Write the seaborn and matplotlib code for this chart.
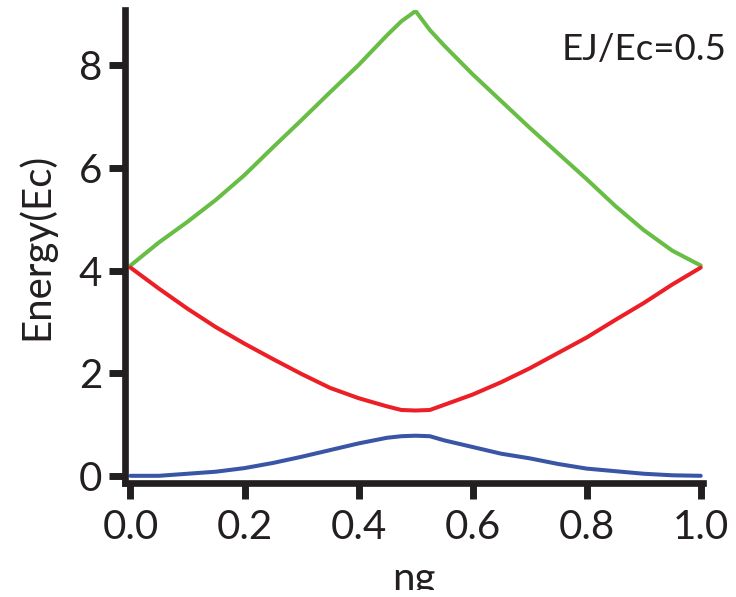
import matplotlib
matplotlib.use("Agg")
import matplotlib.pyplot as plt
import matplotlib.patches as mpatches
import pandas as pd
import seaborn as sns

# Gate charge axis (shared by all three levels)
ng = [0.0, 0.05, 0.10, 0.15, 0.20, 0.25, 0.30, 0.35, 0.40, 0.45, 0.475,
      0.50, 0.525, 0.55, 0.60, 0.65, 0.70, 0.75, 0.80, 0.85, 0.90, 0.95, 1.0]

# Energy levels in units of Ec
level0 = [0.01, 0.01, 0.05, 0.09, 0.16, 0.26, 0.38, 0.51, 0.64, 0.75, 0.78,
          0.79, 0.78, 0.70, 0.57, 0.44, 0.35, 0.24, 0.15, 0.10, 0.05, 0.02, 0.01]
level1 = [4.06, 3.65, 3.26, 2.90, 2.58, 2.28, 1.99, 1.72, 1.52, 1.36, 1.29,
          1.28, 1.29, 1.39, 1.59, 1.83, 2.10, 2.40, 2.70, 3.04, 3.37, 3.73, 4.06]
level2 = [4.10, 4.55, 4.95, 5.38, 5.86, 6.40, 6.93, 7.47, 8.00, 8.58, 8.85,
          9.05, 8.68, 8.38, 7.82, 7.30, 6.78, 6.28, 5.78, 5.26, 4.79, 4.39, 4.10]

level_names = ["E0", "E1", "E2"]
level_colors = ["#3a55a6", "#ec1f26", "#68bd45"]

xticks = [0.0, 0.2, 0.4, 0.6, 0.8, 1.0]
xticklabels = ["0.0", "0.2", "0.4", "0.6", "0.8", "1.0"]
yticks = [0, 2, 4, 6, 8]
yticklabels = ["0", "2", "4", "6", "8"]

ink = "#231f20"

sns.set_style("ticks")
plt.rcParams["font.family"] = ["Lato", "DejaVu Sans"]
plt.rcParams["font.weight"] = "normal"

df = pd.DataFrame({
    "ng": ng * 3,
    "energy": level0 + level1 + level2,
    "level": [level_names[0]] * len(ng) + [level_names[1]] * len(ng) + [level_names[2]] * len(ng),
})

fig = plt.figure(figsize=(7.36, 5.97), dpi=100)
ax = fig.add_axes([125 / 736, 114 / 597, 578 / 736, 473 / 597])

sns.lineplot(data=df, x="ng", y="energy", hue="level",
             hue_order=[level_names[2], level_names[0], level_names[1]],
             palette={n: c for n, c in zip(level_names, level_colors)},
             linewidth=2.9, legend=False, ax=ax)

ax.set_xlim(-0.0096, 1.004)
ax.set_ylim(-0.13, 9.07)

ax.set_xticks(xticks)
ax.set_xticklabels(xticklabels)
ax.set_yticks(yticks)
ax.set_yticklabels(yticklabels)

for side in ("top", "right"):
    ax.spines[side].set_visible(False)
for side in ("left", "bottom"):
    ax.spines[side].set_linewidth(4.8)
    ax.spines[side].set_color(ink)

ax.tick_params(axis="both", direction="out", length=11.5, width=5,
               color=ink, labelcolor=ink, labelsize=29)
ax.tick_params(axis="y", pad=5)
ax.tick_params(axis="x", pad=7)

ax.set_ylabel("Energy(Ec)", fontsize=29, fontweight="normal", color=ink, labelpad=17)
ax.set_xlabel("ng", fontsize=29, fontweight="normal", color=ink, labelpad=11)

fig.text(727 / 736, 1 - 60 / 597, "EJ/Ec=0.5", fontsize=26.5, fontweight="normal",
         color=ink, ha="right", va="baseline")

# trim strip along the lower edge of the canvas
fig.patches.append(mpatches.Rectangle((0, 0), 1, 7 / 597, transform=fig.transFigure,
                                      facecolor="white", edgecolor="none", zorder=10))

fig.savefig("out.png", dpi=100)
